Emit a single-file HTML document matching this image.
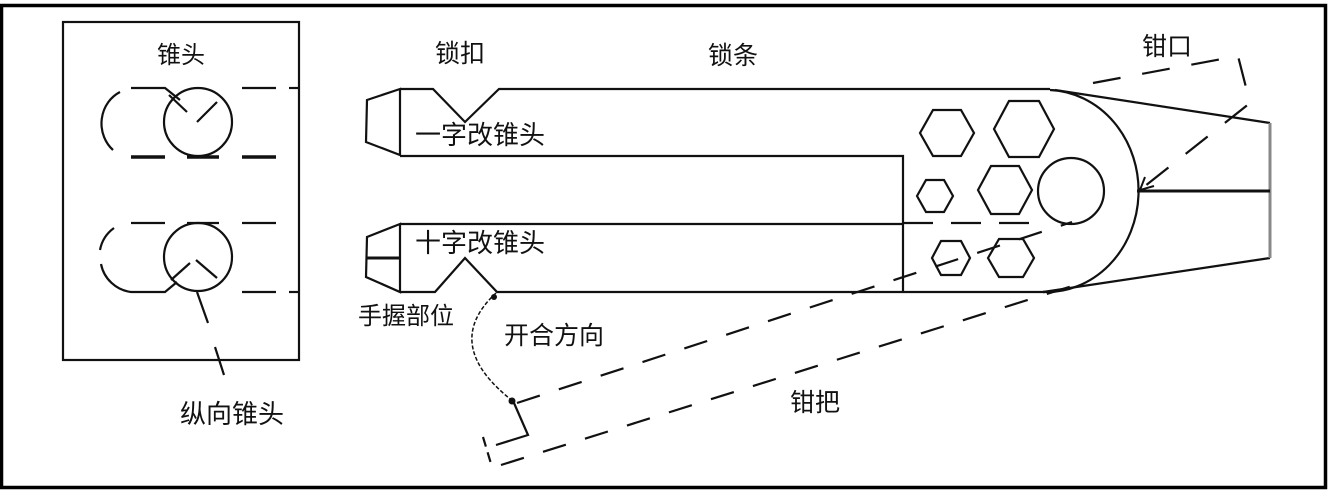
<!DOCTYPE html>
<html><head><meta charset="utf-8"><style>
html,body{margin:0;padding:0;background:#fff;}
svg{display:block;}
text{font-family:"Liberation Sans","Noto Sans CJK SC","WenQuanYi Zen Hei",sans-serif;fill:#111;text-anchor:middle;}
</style></head><body>
<svg width="1329" height="501" viewBox="0 0 1329 501" xmlns="http://www.w3.org/2000/svg">
<rect width="1329" height="501" fill="#fff"/>
<!-- outer frame -->
<rect x="1.5" y="5.5" width="1324" height="482" fill="none" stroke="#000" stroke-width="3.5"/>
<g fill="none" stroke="#111" stroke-width="2.2" stroke-linecap="butt">
<!-- left box -->
<rect x="63" y="22" width="236" height="338"/>
<!-- top cone head -->
<circle cx="198" cy="122" r="34"/>
<path d="M131,88 L165,88 L180,100"/>
<path d="M120,92 A33,35 0 0 0 113,150"/>
<line x1="169" y1="95" x2="187" y2="112"/>
<line x1="217" y1="102" x2="197" y2="122"/>
<g stroke-width="3.5"><line x1="131" y1="157" x2="165" y2="157"/><line x1="187" y1="157" x2="219" y2="157"/><line x1="242" y1="157" x2="276" y2="157"/></g>
<line x1="242" y1="88" x2="276" y2="88"/><line x1="289" y1="88" x2="299" y2="88"/>
<!-- bottom cone head -->
<circle cx="198" cy="257" r="34"/>
<line x1="131" y1="223" x2="165" y2="223"/><line x1="187" y1="223" x2="219" y2="223"/><line x1="242" y1="223" x2="276" y2="223"/>
<path d="M114,228 A35,35 0 0 0 100,250"/>
<path d="M101,264 A35,35 0 0 0 131,292 L165,292 L177,282"/>
<line x1="242" y1="292" x2="276" y2="292"/><line x1="289" y1="292" x2="299" y2="292"/>
<line x1="171" y1="280" x2="190" y2="263"/>
<line x1="196" y1="260" x2="217" y2="278"/>
<line x1="197" y1="292" x2="208" y2="323"/>
<line x1="215" y1="347" x2="224" y2="375"/>
<!-- upper bar -->
<path d="M400,89 L367,100 L366,142 L400,155 Z"/>
<path d="M400,89 L433,89 L465,122 L499,89 L1050,89"/>
<path d="M400,156 L903,156 L903,292"/>
<!-- lower bar -->
<path d="M400,224 L367,237 L366,277 L400,292 Z"/>
<line x1="367" y1="258" x2="400" y2="258" stroke-width="3"/>
<path d="M400,224 L903,224"/>
<path d="M400,292 L435,292 L465,258 L497,292 L1045,292"/>
<line x1="903" y1="223" x2="1045" y2="223" stroke-dasharray="30,18"/>
<!-- head semicircle -->
<path d="M1050,90 A92,101 0 0 1 1043,292"/>
<!-- hexagons -->
<polygon points="920,133 933,110 961,110 974,133 961,156 933,156"/>
<polygon points="994,129 1009,101 1039,101 1054,129 1039,157 1009,157"/>
<polygon points="917,196 926,180 944,180 953,196 944,212 926,212"/>
<polygon points="978,190 991,166 1019,166 1032,190 1019,214 991,214"/>
<circle cx="1071" cy="191" r="33"/>
<polygon points="932,258 941,241 961,241 970,258 961,275 941,275"/>
<polygon points="988,258 999,239 1023,239 1034,258 1023,277 999,277"/>
<!-- jaws -->
<path d="M1055,90 L1270,123"/>
<path d="M1043,292 L1270,258"/>
<line x1="1270" y1="123" x2="1270" y2="258" stroke="#888" stroke-width="3"/>
<line x1="1137" y1="191" x2="1270" y2="191" stroke-width="3"/>
<!-- dashed jaw -->
<path d="M1093,83 L1238,56 L1250,103 L1140,190" stroke-dasharray="28,22"/>
<path d="M1140,190 l14,-4 M1140,190 l5,-13" stroke-width="2"/>
<!-- handle dashed lines -->
<line x1="517" y1="403" x2="1072" y2="222" stroke-dasharray="24,20"/>
<line x1="501" y1="465" x2="1085" y2="282" stroke-dasharray="24,20"/>
<path d="M514,403 L528,435 L496,445" />
<line x1="483" y1="437" x2="492" y2="467" stroke-dasharray="10,6"/>
<!-- arc -->
<path d="M496,293 Q440,345 514,402" stroke-width="1.5" stroke-dasharray="4,2"/>
</g>
<circle cx="494" cy="297" r="3" fill="#111"/>
<circle cx="512" cy="401" r="3.5" fill="#111"/>
<!-- labels -->
<text x="181" y="63" font-size="24">锥头</text>
<text x="232" y="423" font-size="26">纵向锥头</text>
<text x="460" y="62" font-size="25">锁扣</text>
<text x="733" y="64" font-size="25">锁条</text>
<text x="1167" y="55" font-size="25">钳口</text>
<text x="480" y="144" font-size="26">一字改锥头</text>
<text x="480" y="252" font-size="26">十字改锥头</text>
<text x="406" y="324" font-size="24">手握部位</text>
<text x="554" y="344" font-size="25">开合方向</text>
<text x="815" y="411" font-size="25">钳把</text>
</svg>
</body></html>
